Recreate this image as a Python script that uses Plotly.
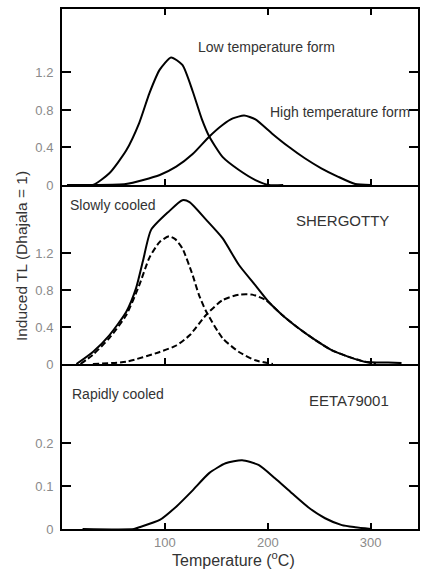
import plotly.graph_objects as go
from plotly.subplots import make_subplots

# ---- data ----
low_T = [5, 30, 46, 62.5, 75, 85, 95, 106, 117, 127, 136, 143, 156, 172, 188, 201, 215]
low_v = [0, 0, 0.125, 0.37, 0.66, 0.98, 1.23, 1.36, 1.28, 1.0, 0.70, 0.52, 0.30, 0.16, 0.053, 0.0, 0.0]

high_T = [5, 30, 62, 95, 111, 127, 143, 156, 166, 177, 188, 204, 220, 236, 252, 268, 285, 300]
high_v = [0, 0, 0.01, 0.107, 0.195, 0.33, 0.515, 0.64, 0.71, 0.74, 0.70, 0.55, 0.41, 0.285, 0.178, 0.09, 0.01, 0]

slow_T = [14, 30, 46, 62.5, 72, 78.6, 86.6, 104, 117, 124, 140, 156, 172, 188, 201, 214, 230, 246, 262, 278, 294, 317, 330]
slow_v = [0, 0.13, 0.31, 0.565, 0.82, 1.11, 1.45, 1.65, 1.77, 1.75, 1.56, 1.36, 1.07, 0.85, 0.67, 0.53, 0.386, 0.26, 0.15, 0.08, 0.025, 0.015, 0.01]

slow_low_T = [18, 30, 46, 62.5, 75, 85, 95, 104, 110, 117, 127, 133, 140, 156, 172, 188, 205]
slow_low_v = [0, 0.1, 0.28, 0.53, 0.85, 1.15, 1.32, 1.38, 1.35, 1.25, 0.96, 0.75, 0.57, 0.28, 0.13, 0.04, 0]

slow_high_T = [30, 62.5, 95, 111, 124, 140, 156, 172, 185, 198, 214, 230, 246, 262, 278, 294, 305]
slow_high_v = [0, 0.025, 0.13, 0.2, 0.31, 0.53, 0.69, 0.75, 0.75, 0.69, 0.53, 0.386, 0.26, 0.15, 0.08, 0.025, 0]

rapid_T = [20, 70, 75, 95, 111, 127, 143, 159, 175, 191, 207, 223.5, 239.6, 255.7, 272, 285, 300]
rapid_v = [0, 0, 0.004, 0.021, 0.052, 0.09, 0.13, 0.153, 0.16, 0.149, 0.118, 0.083, 0.05, 0.025, 0.009, 0.004, 0]

x_ticks = [100, 200, 300]
y_ticks_top = [0, 0.4, 0.8, 1.2]
y_ticks_mid = [0, 0.4, 0.8, 1.2]
y_ticks_bot = [0, 0.1, 0.2]

# ---- figure ----
fig = make_subplots(rows=3, cols=1, shared_xaxes=True, vertical_spacing=0,
                    row_heights=[176, 179, 165])

line = dict(color="black", width=2, shape="spline", smoothing=0.6)
dline = dict(color="black", width=2, shape="spline", smoothing=0.6, dash="6px,3px")

fig.add_trace(go.Scatter(x=low_T, y=low_v, mode="lines", line=line), row=1, col=1)
fig.add_trace(go.Scatter(x=high_T, y=high_v, mode="lines", line=line), row=1, col=1)
fig.add_trace(go.Scatter(x=slow_low_T, y=slow_low_v, mode="lines", line=dline), row=2, col=1)
fig.add_trace(go.Scatter(x=slow_high_T, y=slow_high_v, mode="lines", line=dline), row=2, col=1)
fig.add_trace(go.Scatter(x=slow_T, y=slow_v, mode="lines", line=line), row=2, col=1)
fig.add_trace(go.Scatter(x=rapid_T, y=rapid_v, mode="lines", line=line), row=3, col=1)

tickfont = dict(family="Liberation Sans, Arial, sans-serif", size=13, color="#8a8a8a")
common_x = dict(range=[0, 346], tickvals=x_ticks, ticks="inside", ticklen=6, tickwidth=1.5,
                tickcolor="black", showline=True, linecolor="black", linewidth=2,
                showgrid=False, zeroline=False, tickfont=tickfont)
fig.update_xaxes(common_x, mirror="allticks", showticklabels=False, row=1, col=1)
fig.update_xaxes(common_x, mirror=False, showticklabels=False, row=2, col=1)
fig.update_xaxes(common_x, mirror=False, showticklabels=True, row=3, col=1)

common_y = dict(ticks="inside", ticklen=9, tickwidth=1.5, tickcolor="black", showline=True,
                linecolor="black", linewidth=2, mirror="allticks", showgrid=False,
                zeroline=False, tickfont=tickfont, ticklabelstandoff=4)
fig.update_yaxes(common_y, range=[0, 1.877], tickvals=y_ticks_top,
                 ticktext=[str(v) for v in y_ticks_top], row=1, col=1)
fig.update_yaxes(common_y, range=[0, 1.935], tickvals=y_ticks_mid,
                 ticktext=[str(v) for v in y_ticks_mid], row=2, col=1)
fig.update_yaxes(common_y, range=[0, 0.384], tickvals=y_ticks_bot,
                 ticktext=[str(v) for v in y_ticks_bot], row=3, col=1)

txt = dict(family="Liberation Sans, Arial, sans-serif", size=14, color="#333")
big = dict(family="Liberation Sans, Arial, sans-serif", size=15, color="#333")
axt = dict(family="Liberation Sans, Arial, sans-serif", size=16, color="#333")

def ann(text, x, y, xref, yref, font, xanchor="left"):
    fig.add_annotation(text=text, x=x, y=y, xref=xref, yref=yref, showarrow=False,
                       font=font, xanchor=xanchor, yanchor="middle")

ann("Low temperature form", 130, 1.47, "x", "y", txt)
ann("High temperature form", 200, 0.78, "x", "y", txt)
ann("Slowly cooled", 6, 1.72, "x2", "y2", txt)
ann("SHERGOTTY", 225, 1.55, "x2", "y2", big)
ann("Rapidly cooled", 8, 0.315, "x3", "y3", txt)
ann("EETA79001", 238, 0.300, "x3", "y3", big)

fig.add_annotation(text="Temperature (<sup>o</sup>C)", x=0.482, y=-0.058, xref="paper",
                   yref="paper", showarrow=False, font=axt, xanchor="center", yanchor="middle")
fig.add_annotation(text="Induced TL (Dhajala = 1)", x=-0.115, y=0.525, xref="paper",
                   yref="paper", showarrow=False, font=dict(big, size=15.5), textangle=-90,
                   xanchor="center", yanchor="middle")

fig.update_layout(width=421, height=571, margin=dict(l=62, r=1, t=9, b=42),
                  paper_bgcolor="white", plot_bgcolor="white", showlegend=False)

fig.write_html("out.html", config={"displayModeBar": False},
               post_script="document.body.style.margin='0';document.body.style.overflow='hidden';")
